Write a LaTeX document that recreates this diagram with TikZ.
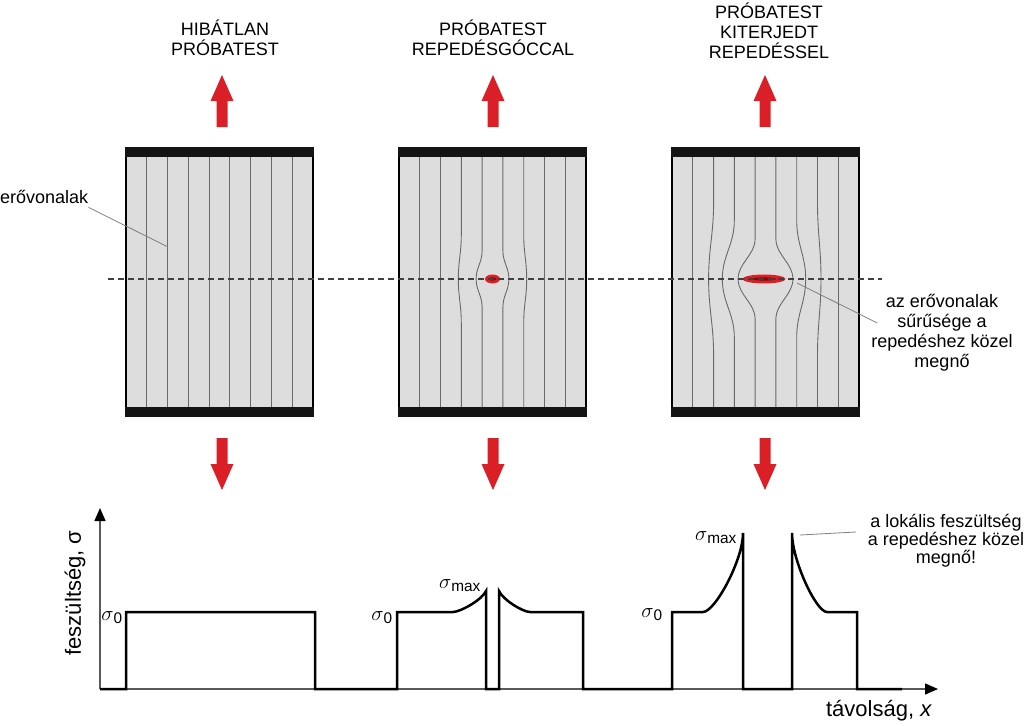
\documentclass[tikz,border=0pt]{standalone}
\usepackage{fontspec}
\setmainfont{Liberation Sans}
\usepackage{tikz}
\usetikzlibrary{positioning}
\usetikzlibrary{arrows.meta}
\definecolor{pullRed}{RGB}{218,32,38}
\definecolor{bodyGray}{RGB}{221,221,221}
\definecolor{lineGray}{RGB}{105,105,105}
\tikzset{
    specimen/.pic={
		\filldraw[fill=bodyGray, draw=black, line width=2pt] (-93.5,-130) rectangle (93.5,130);
		\fill[black!92] (-94.5,-135) rectangle (94.5,-125);
		\fill[black!92] (-94.5,125) rectangle (94.5,135);
	}
}
\tikzset{
    pullArrow/.pic={
		\fill[pullRed] (-5.5,0) -- (-5.5,-26) -- (-11.5,-26) -- (0,-52) -- (11.5,-26) -- (5.5,-26) -- (5.5,0) -- cycle;
	}
}
\tikzset{
    crack/.pic={
		\fill[pullRed] (0,0) ellipse (#1 and 4.5);
		\fill[red!55!black] (0,0) ellipse (#1*0.55 and 1.6);
	}
}

\begin{document}
\begin{tikzpicture}[x=1pt, y=-1pt,
	fieldLine/.style={lineGray, line width=0.9pt},
	cutLine/.style={black!75, line width=1.2pt, dash pattern=on 6pt off 4pt},
	leaderLine/.style={gray, line width=0.8pt},
	curveLine/.style={black, line width=2.5pt, line join=miter},
	axisLine/.style={black!65, line width=1.5pt, -{Triangle[length=13pt,width=11pt,black]}},
	titleText/.style={font=\fontsize{18}{20}\selectfont, align=center, inner sep=0pt},
	axisText/.style={font=\fontsize{22}{26}\selectfont, inner sep=0pt},
	sigmaText/.style={font=\fontsize{22}{26}\selectfont, inner sep=0pt}]
			\useasboundingbox (0,0) rectangle (1024,725);
			\node[titleText] (title1) at (225,38) {HIBÁTLAN\\PRÓBATEST};
			\node[titleText] (title2) at (493,38) {PRÓBATEST\\REPEDÉSGÓCCAL};
			\node[titleText] (title3) at (769,31) {PRÓBATEST\\KITERJEDT\\REPEDÉSSEL};
			\pic at (222,127) {pullArrow};
			\pic at (493,127) {pullArrow};
			\pic at (765,127) {pullArrow};
			\pic[rotate=180] at (222,438) {pullArrow};
			\pic[rotate=180] at (493,438) {pullArrow};
			\pic[rotate=180] at (765,438) {pullArrow};
			\pic at (219.5,282) {specimen};
			\pic at (492.5,282) {specimen};
			\pic at (765.5,282) {specimen};
			\draw[fieldLine] (146.8,157) -- (146.8,407);
			\draw[fieldLine] (167.6,157) -- (167.6,407);
			\draw[fieldLine] (188.3,157) -- (188.3,407);
			\draw[fieldLine] (209.1,157) -- (209.1,407);
			\draw[fieldLine] (229.9,157) -- (229.9,407);
			\draw[fieldLine] (250.7,157) -- (250.7,407);
			\draw[fieldLine] (271.5,157) -- (271.5,407);
			\draw[fieldLine] (292.2,157) -- (292.2,407);
			\draw[fieldLine] (419.8,157) -- (419.8,407);
			\draw[fieldLine] (440.6,157) -- (440.6,407);
			\draw[fieldLine] (461.3,157) -- (461.3,235) .. controls (461.3,252.6) and (458.3,261.4) .. (458.3,279) .. controls (458.3,296.6) and (461.3,305.4) .. (461.3,323) -- (461.3,407);
			\draw[fieldLine] (482.1,157) -- (482.1,251) .. controls (482.1,262.2) and (476.1,267.8) .. (476.1,279) .. controls (476.1,290.2) and (482.1,295.8) .. (482.1,307) -- (482.1,407);
			\draw[fieldLine] (502.9,157) -- (502.9,251) .. controls (502.9,262.2) and (508.9,267.8) .. (508.9,279) .. controls (508.9,290.2) and (502.9,295.8) .. (502.9,307) -- (502.9,407);
			\draw[fieldLine] (523.7,157) -- (523.7,235) .. controls (523.7,252.6) and (526.7,261.4) .. (526.7,279) .. controls (526.7,296.6) and (523.7,305.4) .. (523.7,323) -- (523.7,407);
			\draw[fieldLine] (544.5,157) -- (544.5,407);
			\draw[fieldLine] (565.2,157) -- (565.2,407);
			\draw[fieldLine] (692.8,157) -- (692.8,407);
			\draw[fieldLine] (713.6,157) -- (713.6,203) .. controls (713.6,233.4) and (708.6,248.6) .. (708.6,279) .. controls (708.6,309.4) and (713.6,324.6) .. (713.6,355) -- (713.6,407);
			\draw[fieldLine] (734.3,157) -- (734.3,221) .. controls (734.3,244.2) and (722.3,255.8) .. (722.3,279) .. controls (722.3,302.2) and (734.3,313.8) .. (734.3,337) -- (734.3,407);
			\draw[fieldLine] (755.1,157) -- (755.1,239) .. controls (755.1,255) and (738.1,263) .. (738.1,279) .. controls (738.1,295) and (755.1,303) .. (755.1,319) -- (755.1,407);
			\draw[fieldLine] (775.9,157) -- (775.9,239) .. controls (775.9,255) and (792.9,263) .. (792.9,279) .. controls (792.9,295) and (775.9,303) .. (775.9,319) -- (775.9,407);
			\draw[fieldLine] (796.7,157) -- (796.7,221) .. controls (796.7,244.2) and (805.7,255.8) .. (805.7,279) .. controls (805.7,302.2) and (796.7,313.8) .. (796.7,337) -- (796.7,407);
			\draw[fieldLine] (817.5,157) -- (817.5,203) .. controls (817.5,233.4) and (821,248.6) .. (821,279) .. controls (821,309.4) and (817.5,324.6) .. (817.5,355) -- (817.5,407);
			\draw[fieldLine] (838.2,157) -- (838.2,407);
			\pic at (492.5,279) {crack={7.5}};
			\pic at (764,279) {crack={21.5}};
			\draw[cutLine] (108,279) -- (882,279);
			\node[titleText, anchor=base west] (forceLabel) at (0,203) {erővonalak};
			\node[titleText] (densLabel) at (942,333) {az erővonalak\\sűrűsége a\\repedéshez közel\\megnő};
			\coordinate (forceTip) at (168,247);
			\coordinate (densTip) at (797,283);
			\draw[leaderLine] ([yshift=-4pt]forceLabel.south east) -- (forceTip);
			\draw[leaderLine] (densTip) -- ([xshift=6pt,yshift=10pt]densLabel.west);
			\coordinate (origin) at (100,689);
			\coordinate (yTip) at (100,508);
			\coordinate (xTip) at (938,689);
			\draw[axisLine] (origin) -- (yTip);
			\draw[axisLine] (origin) -- (xTip);
			\draw[curveLine] (100,689) -- (126,689) -- (126,612) -- (315,612) -- (315,689) -- (397,689) -- (397,612) -- (453,612) .. controls (460,612) and (482,600) .. (486,591) -- (486,689) -- (499,689) -- (499,591) .. controls (503,600) and (523,612) .. (530,612) -- (583,612) -- (583,689) -- (672,689) -- (672,612) -- (703,612) .. controls (715,612) and (743,560) .. (743,533) -- (743,689) -- (792,689) -- (792,533) .. controls (792,560) and (816,612) .. (827,612) -- (857,612) -- (857,689) -- (902,689);
			\node[sigmaText, anchor=base east] (sigZeroA) at (123,620) {$\sigma$\textsubscript{0}};
			\node[sigmaText, anchor=base east] (sigZeroB) at (393,620) {$\sigma$\textsubscript{0}};
			\node[sigmaText, anchor=base east] (sigZeroC) at (663,617) {$\sigma$\textsubscript{0}};
			\node[sigmaText, anchor=base] (sigMaxB) at (460,588) {$\sigma$\textsubscript{max}};
			\node[sigmaText, anchor=base] (sigMaxC) at (716,540) {$\sigma$\textsubscript{max}};
			\node[titleText, font=\fontsize{18}{18}\selectfont] (stressLabel) at (946,541) {a lokális feszültség\\a repedéshez közel\\megnő!};
			\coordinate (peakTip) at (800,535);
			\draw[leaderLine] (peakTip) -- ([xshift=-12pt,yshift=9pt]stressLabel.west);
			\node[axisText, rotate=90] (sigmaAxis) at (75,593) {feszültség, σ};
			\node[axisText] (distAxis) at (879,711) {távolság, \textit{x}};
		\end{tikzpicture}
\end{document}
